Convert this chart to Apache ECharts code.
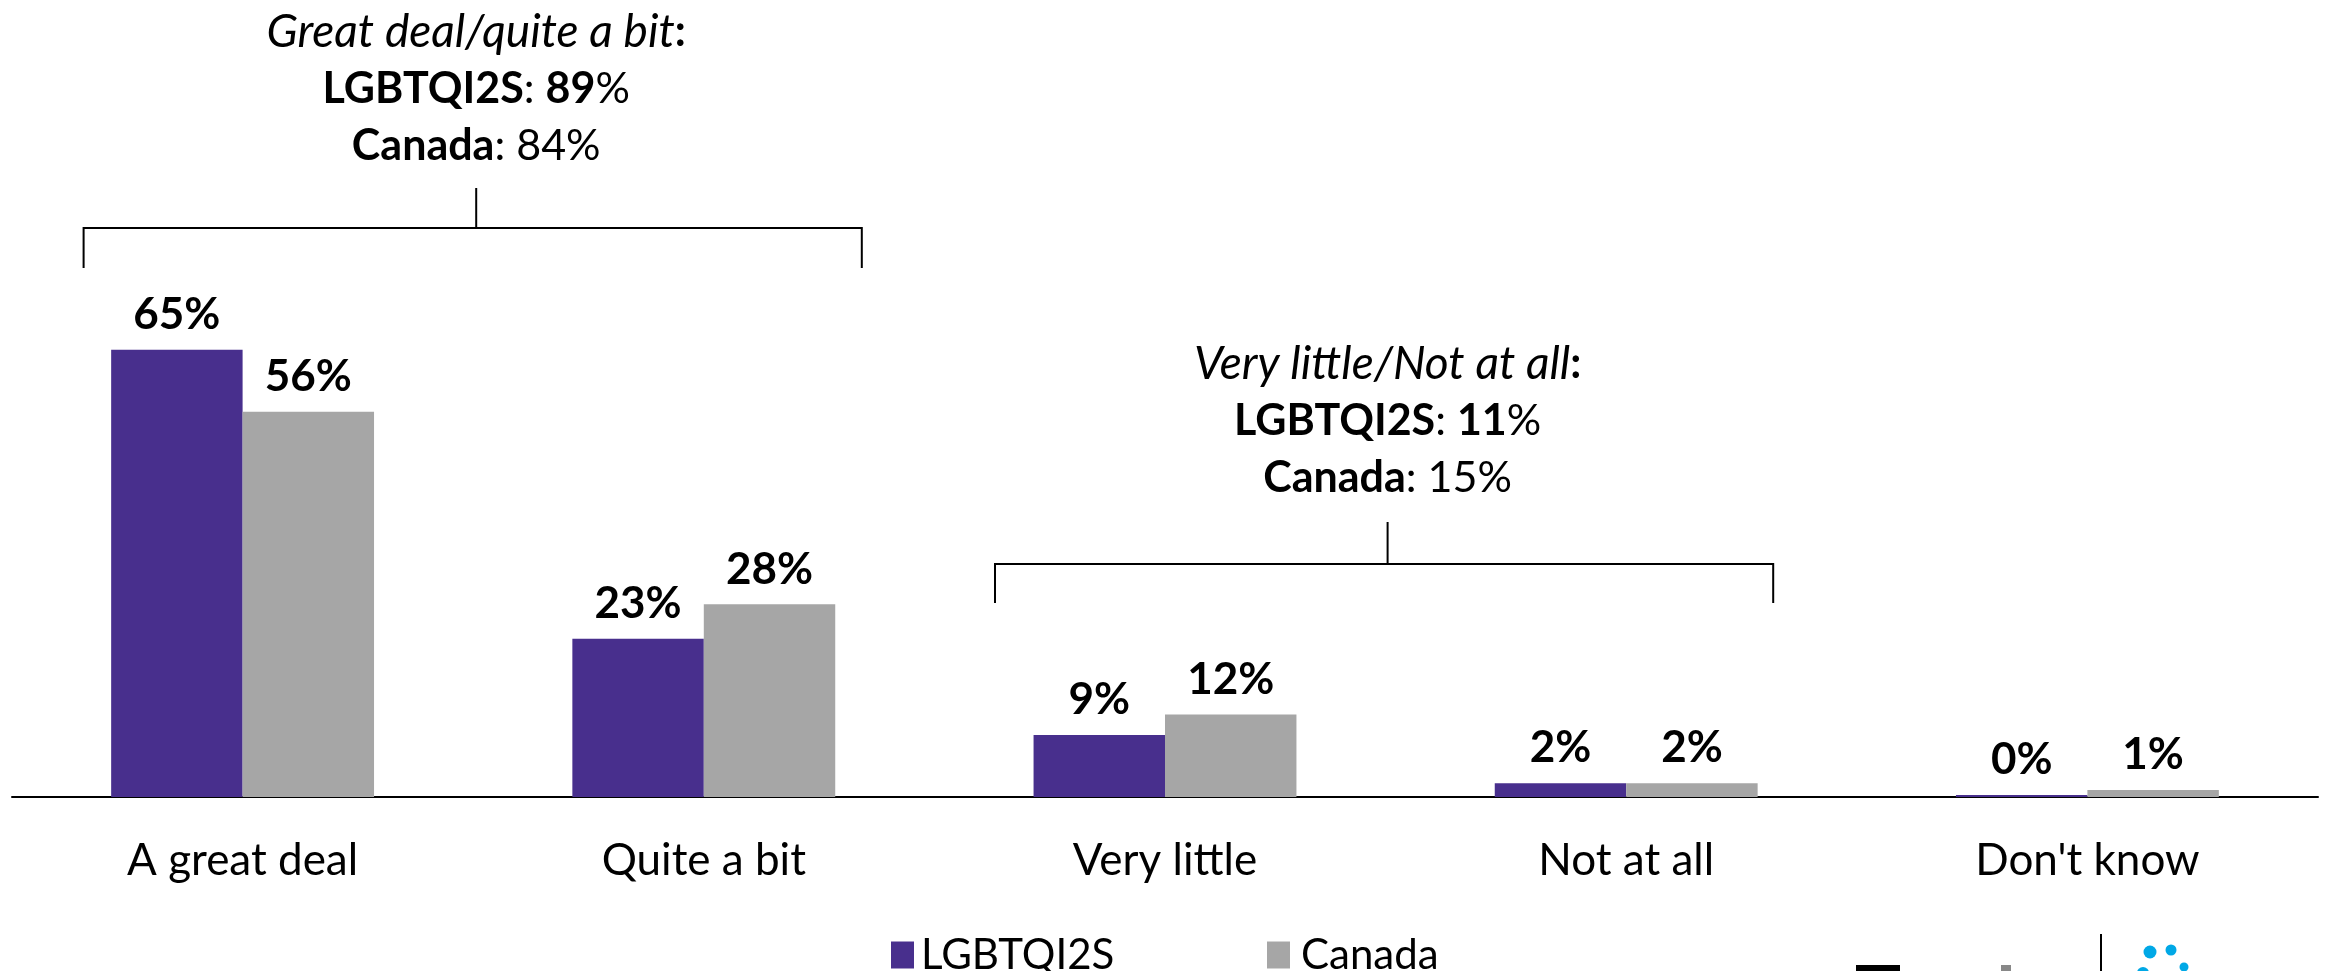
<!DOCTYPE html>
<html>
<head>
<meta charset="utf-8">
<script src="https://cdn.jsdelivr.net/npm/echarts@6/dist/echarts.min.js"></script>
<style>
html,body{margin:0;padding:0;background:#fff;}
#main{width:2328px;height:971px;}
</style>
</head>
<body>
<div id="main"></div>
<script>
const categories = ['A great deal', 'Quite a bit', 'Very little', 'Not at all', "Don't know"];
const seriesNames = ['LGBTQI2S', 'Canada'];
const lgbtqValues = [65, 23, 9, 2, 0.3];
const canadaValues = [56, 28, 12, 2, 1];
const netLabels = ['Great deal/quite a bit', 'Very little/Not at all'];
const netLgbtq = [89, 11];
const netCanada = [84, 15];

const FONT = 'Lato';
const PURPLE = '#482f8d';
const GREY = '#a6a6a6';

const chart = echarts.init(document.getElementById('main'), null, {renderer: 'canvas'});

const labelCfg = {
  show: true,
  position: 'top',
  distance: 13,
  fontFamily: FONT,
  fontWeight: 'bold',
  fontSize: 44,
  color: '#000',
  formatter: p => Math.round(p.value) + '%'
};

chart.setOption({
  animation: false,
  backgroundColor: '#fff',
  grid: {left: 12, right: 10, top: 109, bottom: 174, containLabel: false},
  legend: [
    {data: [seriesNames[0]], left: 886, top: 929, itemWidth: 23, itemHeight: 27, itemGap: 10,
     icon: 'rect', textStyle: {fontFamily: FONT, fontSize: 42, color: '#000', padding: [0,0,0,2]}},
    {data: [seriesNames[1]], left: 1262, top: 929, itemWidth: 23, itemHeight: 27, itemGap: 10,
     icon: 'rect', textStyle: {fontFamily: FONT, fontSize: 42, color: '#000', padding: [0,0,0,6]}}
  ],
  xAxis: {
    type: 'category',
    data: categories,
    axisLine: {lineStyle: {color: '#000', width: 2}},
    axisTick: {show: false},
    axisLabel: {fontFamily: FONT, fontSize: 44, color: '#000', margin: 42}
  },
  yAxis: {type: 'value', min: 0, max: 100, show: false, splitLine: {show: false}},
  series: [
    {name: seriesNames[0], type: 'bar', data: lgbtqValues, barGap: '0%', barCategoryGap: '43%',
     itemStyle: {color: PURPLE}, label: labelCfg},
    {name: seriesNames[1], type: 'bar', data: canadaValues, barGap: '0%', barCategoryGap: '43%',
     itemStyle: {color: GREY}, label: labelCfg}
  ]
});

function cx(i) { return chart.convertToPixel({xAxisIndex: 0}, i); }

const lineStyle = {stroke: '#000', lineWidth: 2};
function bracket(left, right, stemX, stemTop, barY, tickBottom) {
  return [
    {type: 'polyline', shape: {points: [[left, tickBottom], [left, barY], [right, barY], [right, tickBottom]]}, style: Object.assign({fill: null}, lineStyle), silent: true},
    {type: 'line', shape: {x1: stemX, y1: stemTop, x2: stemX, y2: barY}, style: lineStyle, silent: true}
  ];
}
function annoText(i, x, top) {
  const txt = '{it|' + netLabels[i] + '}{b|:}\n' +
              '{b|' + seriesNames[0] + '}{r|: }{b|' + netLgbtq[i] + '}{r|%}\n' +
              '{b|' + seriesNames[1] + '}{r|: ' + netCanada[i] + '%}';
  return {
    type: 'text', x: x, y: top, silent: true,
    style: {
      text: txt, align: 'center', verticalAlign: 'top', fontFamily: FONT, fontSize: 43,
      lineHeight: 57, fill: '#000',
      rich: {
        it: {fontStyle: 'italic', fontFamily: FONT, fontSize: 46, lineHeight: 57, fill: '#000'},
        b: {fontWeight: 'bold', fontFamily: FONT, fontSize: 43, lineHeight: 57, fill: '#000'},
        r: {fontFamily: FONT, fontSize: 43, lineHeight: 57, fill: '#000'}
      }
    }
  };
}

const c0 = cx(0), c1 = cx(1), c2 = cx(2), c3 = cx(3);
const stem1 = (c0 + c1) / 2 + 3;
const stem2 = (c2 + c3) / 2 - 8;
const graphics = []
  .concat(bracket(c0 - 159, c1 + 158, stem1, 188, 228, 268))
  .concat(bracket(c2 - 170, c3 + 147, stem2, 522, 564, 603))
  .concat([annoText(0, stem1, 4), annoText(1, stem2, 336)])
  .concat([
    // logo fragments at bottom right
    {type: 'rect', shape: {x: 1856, y: 965, width: 44, height: 8}, style: {fill: '#000'}, silent: true},
    {type: 'rect', shape: {x: 2001, y: 965, width: 10, height: 8}, style: {fill: '#888'}, silent: true},
    {type: 'line', shape: {x1: 2101, y1: 934, x2: 2101, y2: 971}, style: {stroke: '#000', lineWidth: 2}, silent: true},
    {type: 'circle', shape: {cx: 2150, cy: 952, r: 6.5}, style: {fill: '#00a8e6'}, silent: true},
    {type: 'circle', shape: {cx: 2171, cy: 950, r: 5.5}, style: {fill: '#00a8e6'}, silent: true},
    {type: 'circle', shape: {cx: 2184, cy: 967, r: 4.5}, style: {fill: '#00a8e6'}, silent: true},
    {type: 'circle', shape: {cx: 2143, cy: 973, r: 6}, style: {fill: '#00a8e6'}, silent: true}
  ]);
chart.setOption({graphic: graphics});
</script>
</body>
</html>
